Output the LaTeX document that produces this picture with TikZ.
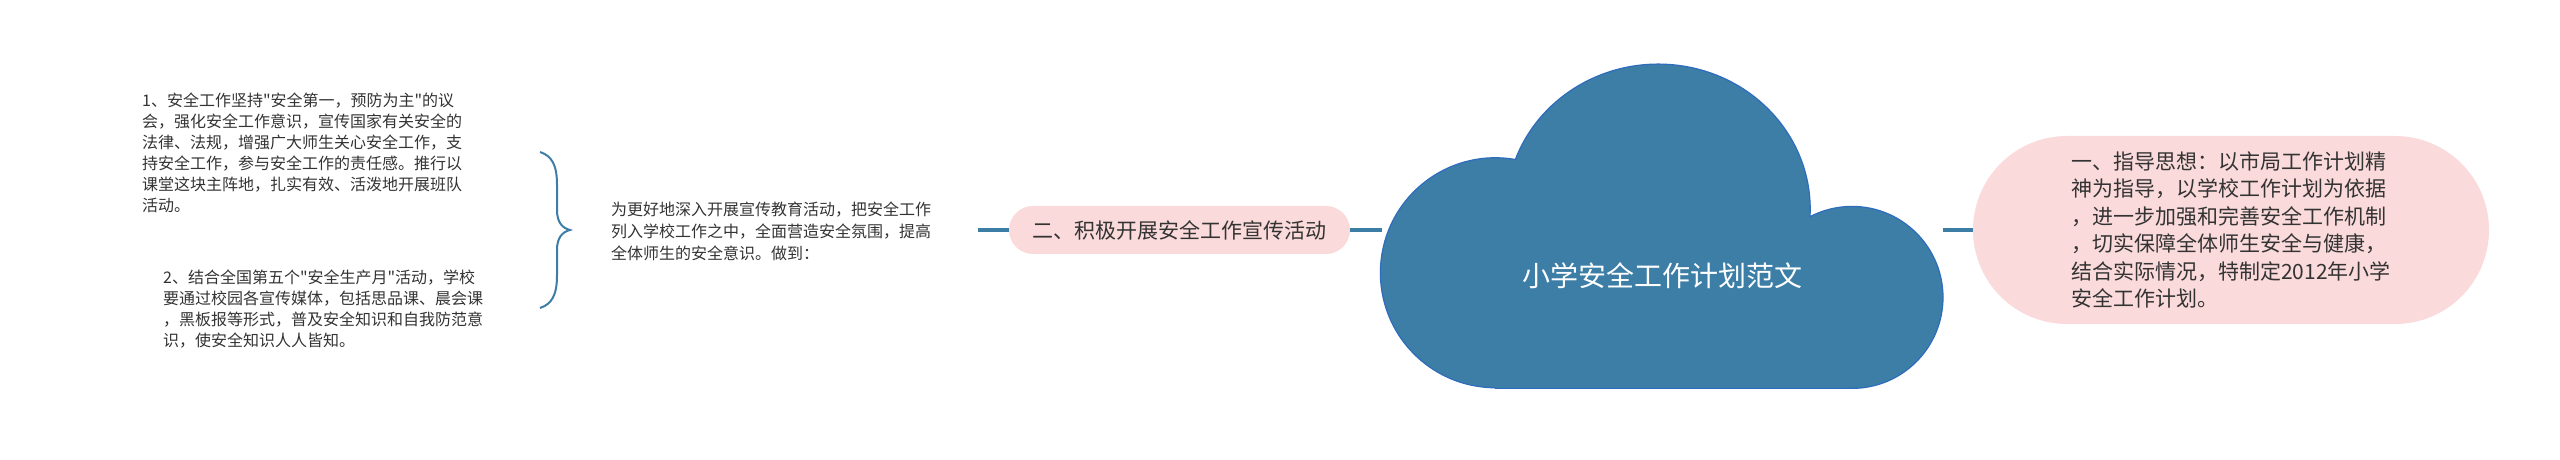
\documentclass[tikz,border=0pt]{standalone}
\usepackage{fontspec}
\setmainfont{Noto Sans CJK SC}[Ligatures=TeXOff]
\definecolor{cloudblue}{RGB}{61,126,166}
\definecolor{cloudedge}{RGB}{46,108,190}
\definecolor{pinkfill}{RGB}{250,218,219}
\definecolor{txt}{RGB}{51,51,51}

\begin{document}
\begin{tikzpicture}[x=1pt,y=1pt,
      link/.style={draw=cloudblue,line width=4pt},
      pill/.style={fill=pinkfill,text=txt,rounded corners=#1,inner sep=0pt},
      note/.style={text=txt,align=left,inner sep=0pt,anchor=west,font=\fontsize{16}{21}\selectfont}]
      \useasboundingbox (0,0) rectangle (2560,460);
      \fill[cloudblue,draw=cloudedge,line width=1.2pt] (1495.4,71.6) -- (1852,71.6) arc (-90:117.5:91)
        arc[start angle=-3,end angle=160,x radius=152,y radius=145] arc (80:270:115) -- cycle;
      \node[text=white,font=\fontsize{28}{34}\selectfont] (root) at (1662,184) {小学安全工作计划范文};
      \node[pill=94pt,minimum width=516pt,minimum height=188pt,align=left,font=\fontsize{21}{27.5}\selectfont] (sec1) at (2231,230)
        {一、指导思想：以市局工作计划精\\神为指导，以学校工作计划为依据\\，进一步加强和完善安全工作机制\\，切实保障全体师生安全与健康，\\结合实际情况，特制定2012年小学\\安全工作计划。};
      \node[pill=24pt,minimum width=341pt,minimum height=48pt,font=\fontsize{21}{25}\selectfont] (sec2) at (1179.5,230) {二、积极开展安全工作宣传活动};
      \node[note,font=\fontsize{16}{22}\selectfont] (intro) at (611,229)
        {为更好地深入开展宣传教育活动，把安全工作\\列入学校工作之中，全面营造安全氛围，提高\\全体师生的安全意识。做到：};
      \node[note] (pt1) at (142,307.5)
        {1、安全工作坚持"安全第一，预防为主"的议\\会，强化安全工作意识，宣传国家有关安全的\\法律、法规，增强广大师生关心安全工作，支\\持安全工作，参与安全工作的责任感。推行以\\课堂这块主阵地，扎实有效、活泼地开展班队\\活动。};
      \node[note] (pt2) at (163,151)
        {2、结合全国第五个"安全生产月"活动，学校\\要通过校园各宣传媒体，包括思品课、晨会课\\，黑板报等形式，普及安全知识和自我防范意\\识，使安全知识人人皆知。};
      \coordinate (cloudW) at (1382,230);
      \coordinate (cloudE) at (1943,230);
      \coordinate (introE) at (978,230);
      \coordinate (tip) at (570,230);
      \draw[link] (cloudE) -- (sec1.west);
      \draw[link] (sec2.east) -- (cloudW);
      \draw[link] (sec2.west) -- (introE);
      \draw[cloudblue,line width=2pt] (540,308) .. controls (552,304) and (557,295) .. (557,275) -- (557,250)
        .. controls (557,238) and (562,232) .. (tip) .. controls (562,228) and (557,222) .. (557,210)
        -- (557,185) .. controls (557,165) and (552,156) .. (540,152);
    \end{tikzpicture}
\end{document}
